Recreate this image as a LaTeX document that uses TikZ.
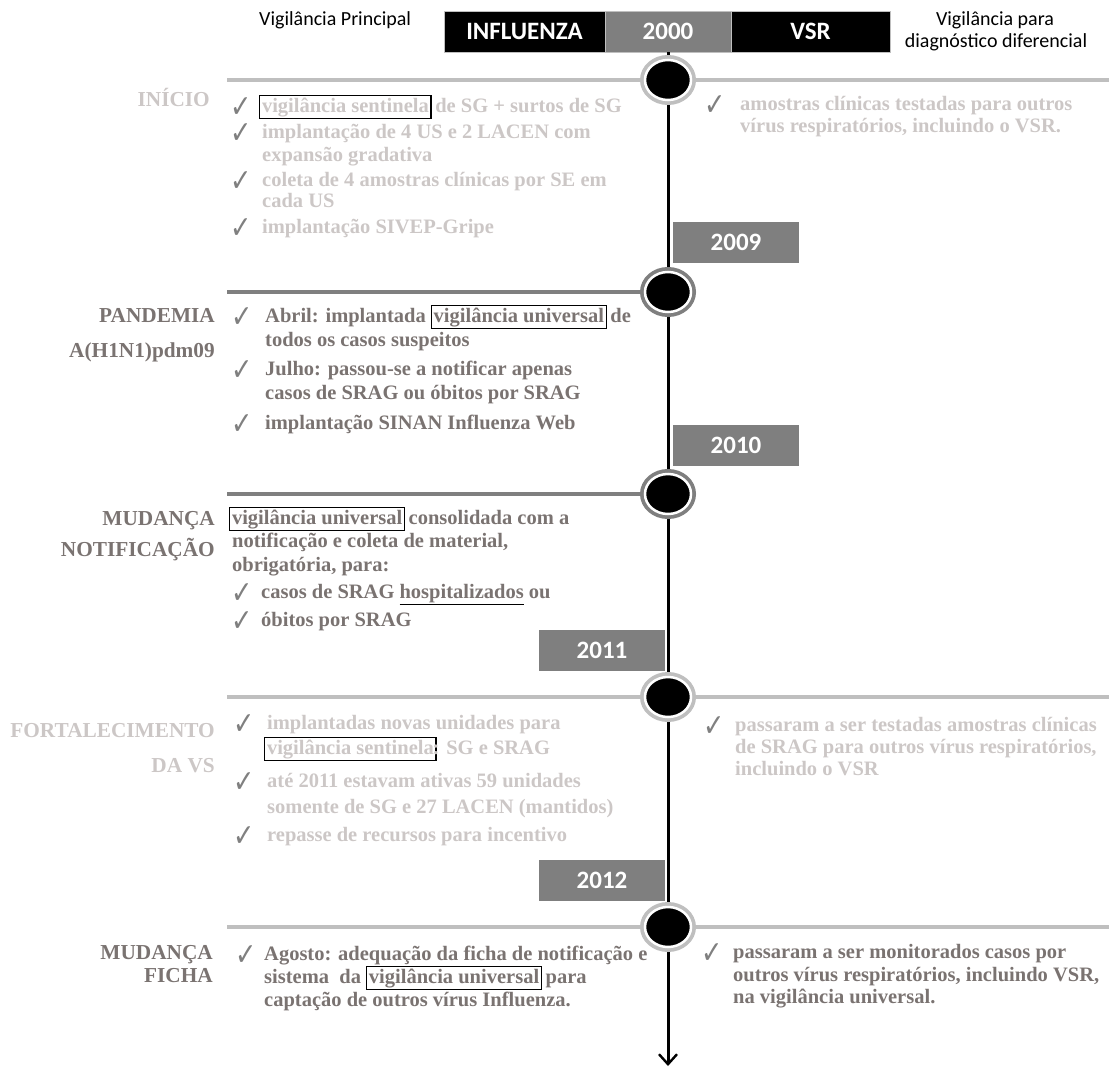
\documentclass[tikz,border=0pt]{standalone}
\usepackage{fontspec}
\usepackage{xcolor}
\usetikzlibrary{arrows.meta,shapes.geometric}
\setmainfont{Liberation Serif}
\newfontfamily\hdrfont{Carlito}
\newfontfamily\symfont{DejaVu Sans}
\definecolor{lighttxt}{RGB}{204,199,198}
\definecolor{darktxt}{RGB}{122,115,113}
\definecolor{checkc}{RGB}{128,128,128}
\definecolor{lineL}{RGB}{191,191,191}
\definecolor{lineD}{RGB}{127,127,127}
\definecolor{boxgrey}{RGB}{127,127,127}
\newcommand\bodyfont{\fontsize{20.5}{24}\selectfont\bfseries}
\newcommand\labfont{\fontsize{21.3}{24}\selectfont\bfseries}
\newcommand\bx[1]{{\setlength\fboxsep{1.6pt}\setlength\fboxrule{1.2pt}\fcolorbox{black}{white}{#1}}}
\tikzset{
  txt/.style={anchor=base west, inner sep=0pt, font=\bodyfont},
  lab/.style={anchor=base east, inner sep=0pt, font=\labfont},
  chk/.style={anchor=base west, inner sep=0pt, yshift=-5pt, text height=12pt, text depth=0pt, font=\fontsize{30}{32}\selectfont\symfont, text=checkc},
  hdr/.style={anchor=base west, inner sep=0pt, font=\fontsize{20}{24}\selectfont\hdrfont},
  hbox/.style={rectangle, minimum height=41pt, inner sep=0pt, text=white, draw=white!75!black, line width=0.6pt, font=\fontsize{25}{30}\selectfont\hdrfont\bfseries},
  ybox/.style={rectangle, fill=boxgrey, minimum width=126pt, minimum height=41pt, inner sep=0pt, text=white, font=\fontsize{25}{30}\selectfont\hdrfont\bfseries},
  timeline/.style={line width=3pt, black, -{Straight Barb[length=10pt,width=18pt,line width=2.4pt]}},
  hlL/.style={line width=4pt, lineL},
  hlD/.style={line width=4pt, lineD},
  circL/.style={ellipse, minimum width=46pt, minimum height=40pt, inner sep=0pt, fill=black, draw=white, line width=2.5pt, preaction={draw=lineL, line width=10pt}},
  circD/.style={ellipse, minimum width=46pt, minimum height=40pt, inner sep=0pt, fill=black, draw=white, line width=2.5pt, preaction={draw=lineD, line width=10pt}},
}
\newcommand\ck{\scalebox{0.85}[1.05]{✓}}
\begin{document}
\begin{tikzpicture}[x=1pt,y=-1pt]
\useasboundingbox (0,0) rectangle (1109,1068);
% header
\node[hdr] (hp) at (259,25) {Vigilância Principal};
\node[hbox, fill=black, minimum width=161pt] (hinf) at (524.5,31.5) {INFLUENZA};
\node[hbox, fill=boxgrey, minimum width=126pt] (h2000) at (668,31.5) {2000};
\node[hbox, fill=black, minimum width=159pt] (hvsr) at (810.5,31.5) {VSR};
\node[hdr, anchor=base] (hd1) at (995,25) {Vigilância para};
\node[hdr, anchor=base] (hd2) at (996,47) {diagnóstico diferencial};
% timeline
\coordinate (tend) at (668,1066);
\draw[timeline] (h2000.south) -- (tend);
\coordinate (p1) at (668,80);
\coordinate (p2) at (668,292);
\coordinate (p3) at (668,494);
\coordinate (p4) at (668,697);
\coordinate (p5) at (668,927);
\coordinate (l1) at (227,80);   \coordinate (r1) at (1109,80);
\coordinate (l2) at (227,292);
\coordinate (l3) at (227,494);
\coordinate (l4) at (227,697);  \coordinate (r4) at (1109,697);
\coordinate (l5) at (227,927);  \coordinate (r5) at (1109,927);
\draw[hlL] (l1) -- (r1);
\draw[hlD] (l2) -- (p2);
\draw[hlD] (l3) -- (p3);
\draw[hlL] (l4) -- (r4);
\draw[hlL] (l5) -- (r5);
\node[circL] (c1) at (p1) {};
\node[circD] (c2) at (p2) {};
\node[circD] (c3) at (p3) {};
\node[circL] (c4) at (p4) {};
\node[circL] (c5) at (p5) {};
% year boxes
\node[ybox] (y2009) at (736,242.5) {2009};
\node[ybox] (y2010) at (736,445.5) {2010};
\node[ybox] (y2011) at (602,650) {2011};
\node[ybox] (y2012) at (602,880) {2012};

% ---------- INICIO ----------
\begin{scope}[every node/.append style={text=lighttxt}]
\node[lab] (a0) at (210,106) {INÍCIO};
\node[chk] (ak1) at (230,112) {\ck};
\node[txt] (a1) at (259,112) {\bx{vigilância sentinela}\hspace{-1.5pt} de SG + surtos de SG};
\node[chk] (ak2) at (230,138) {\ck};
\node[txt] (a2) at (262,138) {implantação de 4 US e 2 LACEN com};
\node[txt] (a3) at (262,161) {expansão gradativa};
\node[chk] (ak4) at (230,186) {\ck};
\node[txt] (a4) at (262,186) {coleta de 4 amostras clínicas por SE em};
\node[txt] (a5) at (262,207) {cada US};
\node[chk] (ak6) at (230,233) {\ck};
\node[txt] (a6) at (262,233) {implantação SIVEP-Gripe};
\node[chk] (ark1) at (704,110) {\ck};
\node[txt] (ar1) at (740,110) {amostras clínicas testadas para outros};
\node[txt] (ar2) at (740,132) {vírus respiratórios, incluindo o VSR.};
\end{scope}

% ---------- PANDEMIA ----------
\begin{scope}[every node/.append style={text=darktxt}]
\node[lab] (b0) at (215,322) {PANDEMIA};
\node[lab] (b00) at (215,357) {A(H1N1)pdm09};
\node[chk] (bk1) at (231,322) {\ck};
\node[txt] (b1) at (265,322) {Abril: implantada \bx{vigilância universal}\hspace{-1.5pt} de};
\node[txt] (b2) at (265,346) {todos os casos suspeitos};
\node[chk] (bk3) at (231,375) {\ck};
\node[txt] (b3) at (265,375) {Julho: passou-se a notificar apenas};
\node[txt] (b4) at (265,399) {casos de SRAG ou óbitos por SRAG};
\node[chk] (bk5) at (231,429) {\ck};
\node[txt] (b5) at (265,429) {implantação SINAN Influenza Web};
\end{scope}

% ---------- MUDANCA NOTIFICACAO ----------
\begin{scope}[every node/.append style={text=darktxt}]
\node[lab] (m0) at (215,525) {MUDANÇA};
\node[lab] (m00) at (215,556) {NOTIFICAÇÃO};
\node[txt] (m1) at (229,524) {\bx{vigilância universal}\hspace{-1.5pt} consolidada com a};
\node[txt] (m2) at (232,547) {notificação e coleta de material,};
\node[txt] (m3) at (232,571) {obrigatória, para:};
\node[chk] (mk4) at (231,598) {\ck};
\node[txt] (m4) at (261,598) {casos de SRAG {\color{black}\underline{\textcolor{darktxt}{hospitalizados}}} ou};
\node[chk] (mk5) at (231,626) {\ck};
\node[txt] (m5) at (261,626) {óbitos por SRAG};
\end{scope}

% ---------- FORTALECIMENTO ----------
\begin{scope}[every node/.append style={text=lighttxt}]
\node[lab] (f0) at (215,737) {FORTALECIMENTO};
\node[lab] (f00) at (215,772) {DA VS};
\node[chk] (fk1) at (233,729) {\ck};
\node[txt] (f1) at (267,729) {implantadas novas unidades para};
\node[txt] (f2) at (264,754) {\bx{vigilância sentinela}\hspace{-4pt}: SG e SRAG};
\node[chk] (fk3) at (233,787) {\ck};
\node[txt] (f3) at (267,787) {até 2011 estavam ativas 59 unidades};
\node[txt] (f4) at (267,813) {somente de SG e 27 LACEN (mantidos)};
\node[chk] (fk5) at (233,841) {\ck};
\node[txt] (f5) at (267,841) {repasse de recursos para incentivo};
\node[chk] (frk1) at (703,731) {\ck};
\node[txt] (fr1) at (735,731) {passaram a ser testadas amostras clínicas};
\node[txt] (fr2) at (735,753) {de SRAG para outros vírus respiratórios,};
\node[txt] (fr3) at (735,775) {incluindo o VSR};
\end{scope}

% ---------- MUDANCA FICHA ----------
\begin{scope}[every node/.append style={text=darktxt}]
\node[lab] (g0) at (213,959) {MUDANÇA};
\node[lab] (g00) at (213,982) {FICHA};
\node[chk] (gk1) at (235,960) {\ck};
\node[txt] (g1) at (264,960) {Agosto: adequação da ficha de notificação e};
\node[txt] (g2) at (264,983) {sistema~ da \bx{vigilância universal}\hspace{-1.5pt} para};
\node[txt] (g3) at (264,1006) {captação de outros vírus Influenza.};
\node[chk] (grk1) at (701,958) {\ck};
\node[txt] (gr1) at (733,958) {passaram a ser monitorados casos por};
\node[txt] (gr2) at (733,981) {outros vírus respiratórios, incluindo VSR,};
\node[txt] (gr3) at (733,1003) {na vigilância universal.};
\end{scope}
\end{tikzpicture}
\end{document}
